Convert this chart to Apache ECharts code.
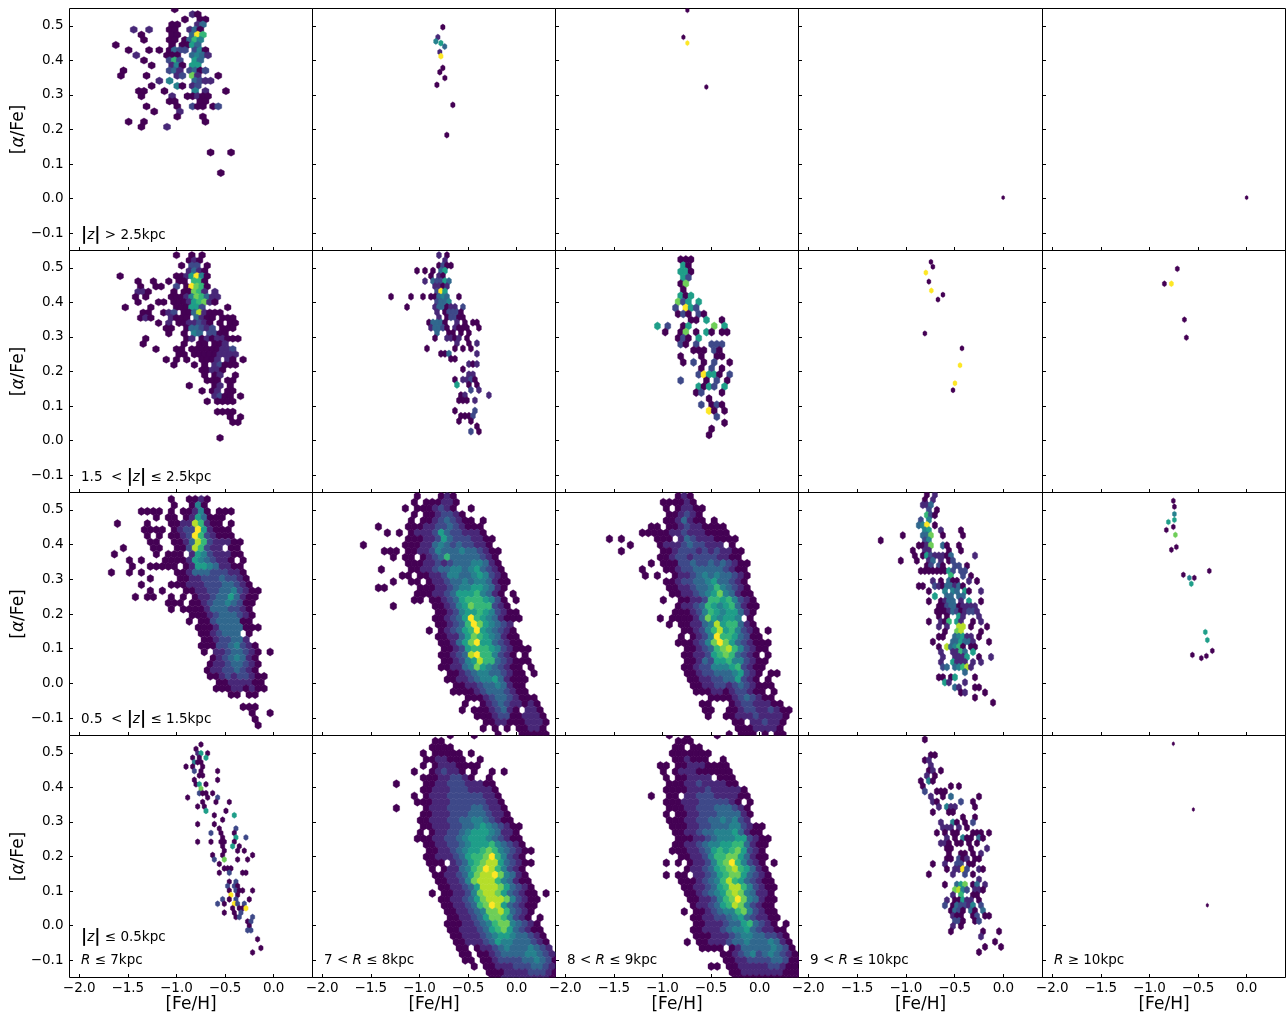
<!DOCTYPE html>
<html><head><meta charset="utf-8">
<style>html,body{margin:0;padding:0;background:#fff}#c{width:1286px;height:1015px}</style>
<script src="https://cdn.jsdelivr.net/npm/echarts@6/dist/echarts.min.js"></script>
</head><body><div id="c"></div>
<script>
const xTicks=[-2,-1.5,-1,-0.5,0];
const yTicks=[-0.1,0,0.1,0.2,0.3,0.4,0.5];
const viridis=['#440154','#482878','#3e4989','#31688e','#26828e','#1f9e89','#35b779','#6ece58','#b5de2b','#fde725'];
// Binned maps: one string per hexbin row, one digit (0-9 colour level) per bin, space = empty bin.
const z0_R78=[
"         0   0","      00","      0000","    0 00000 0","     0011000  0","    0 01110000","   0  012110 0  0 0","    000112210  0",
"0    001122211100","    0011122211110","   0 0111222222110","   000111222222110","0    01112222332110","    001112223332110","    0011122334432100","    00111223345432100",
"    0 011223455543110","   000112234555432100","     00112234555643210","     001123455676432100","     00111235667964210","     000 12356788532100","      0 01134679864210","      0011235788974310",
"       0011247888643100","       0011235888753210","      0 0011247887532100 0","       00112357888742100","        0011236798532100","        001123477863210","         00112357764210 0","        0001123467743210",
"         0011123567532100","         0011123455433210","          0011123544333210","          00 0112343334321","           00 0012333344321","           00 0012222334320","             0 001112223321","               000111122210","                00111111110"];
const z0_R89=[
"     0  0    0","      000","      00 00","     0000000","      001000  0","   00 001110000","    0 0111000000","    0 001111 000",
"     000112111100","    00001112111110","  0  00 11222111100","    0001112222210 0","     00011222333210","    0 0011222333310","     00011223343421","     0001122333442100",
"      001123344453100","      0001123444552100","      0011234455663100","     0001123565675210","       001124667753100","    0 0 0112467964210 0","        01123567865310","    0 00 1123567753210",
"       0001234686532100","       0011235688642100","        001234578743110","        001124679743100","         01123568742100","       0 00123446742100","         001122345321100","         00111233563210 0",
"         0011123445321100","         0001112344332210","        0 0011123343334310","          0000 01333334320","              0012342343210","              0011222233200","            00 001111122100","               001111111000","                00000000000"];
const z1_R78=[
"         0   010","        0 000110","       0 0001210  0","        0 0012210","        0 001232100 0","  0    0001122321000","    0 0 0111253221110","       000112532221100",
"0      000113432322110","   000 0011243334332100","     0 00 0123633333210","       0001121233344310","   0    0011233443453210","      00 001124433454210","     0  00 01123343443100","  00     000112344554310",
"         000112355564310 0","        00 0012356665420 0","     0      0012457666210","            00124556542100","            001235965431000","            0012369754321","           0 0123569543210","            00113576543100",
"             00135795532100","             001256665421000","             0012389664210 0","             001245866321000","             00113475432100 0","              0012344332100 0","              00112344531000","               001123343100",
"               0000123332100","                 000123321000","                 0  0123211010","                0 00012310 110","                   000122001110","                    00110001110","                    0 0 0 00110","                      0   00000"];
const z1_R89=[
"            010","         000010","          0 01100","          001210","          0013100 0","       00 0012110000","      000001121110000","0 0     000 1321110000",
"    0    01112322111 0","  0      00122212121100","         00122122221100","       0 000223223232100","      0   00122333332100","      0 0  0112343433210","          00122334533210","          00112334643210",
"           00112345743100","         0  0011266564210","            01123654563100","           00012465455310","         0 000013754554 0","          0 0011348566310","             0012468564210 0","            0 012496653200",
"            0001247975321000","             00123678642100","             0011256763210 0","             00132556442100","             00122444562100","             0012233345210 00","              001122335210 0","              00112212321000",
"               000110122100 0","                 00001232100","                00   012211100","                00  00122112100","                 0  00111211110","                     00 112110","                      00011110","                    0 000 0 00"];
const z1_R7=[
"          0  0010","          0  040","     0000 0 00140 000","       0 00 0153000"," 0    0   001186100 0","     0000 0122951000","      0 0 00129621000","      00  001386211100",
"  0    00  00286211 00","0      0 000 154211100","   0 0   000015432110 0","   0  00000 0155431100","0  0 0     001333222110","      0    001122232210","     0    00011122233210","      0 0   0011223342100",
"    0 00  0 0 01123353100","         000 00123343200","          0 000013332210","             00012333210","             0 002333300","              00013333000","               0012333 0","               00122331",
"               0002234210","               0 11233210 0","                 01234310","                011233210","                011223210","                0012122100","                  00111100","                 000110100",
"                    00 00","","                      000","                       0  0","                        0","                        0"];
const z2_R7=[
"           0  0 0","             010","            0 22 0","             1310","0          0015940","   0  0  0 00 660","    0  00  2 09760","   110    0 00761 1",
"   0 0    0001476311","   0   00 000156710"," 0    0    000552    0","    00  012 00381000","    010   1000 3100 000","       0 1 0011210 0 00","         00  033212 000","         0  0 43 2200",
"     0       01 01011000","    0       0  00 001","       0   00 000000112","           00 000001111","         0 0 0  0001 10 0","          0   0 0 12000","                00110","                0 01  0",
"                 000 00","             0    01 0","                0 01 00","                  1200 0","                 0 0000","","                   0000","                     0 0",
"                      00","","","                   0"];
const z3_R7=[
"            0","               10","              0  00","           00   13","    1  1   00  130","     0     00  396","      0    00 0364","0          0 0053",
"   0   0 0 0322 240","    1     000  3431","      0    262  53","       0   140 55","  0        231 2302"," 0    0     12 71   0","         1 4    3211","       0    40 12",
"     00   0     4 1   0","     0     1  00100","           00    00","      0     0  200 02","        0    1","            0    0","   0  0           0","     0    1",
"","","","","                   0   0","","","","                     0"];
const z1_R910=[
"            0 1","           0 1","           113","            2 0","            620","          2 4","          349 0","           45  1    0",
"      0    337  0    0","0          24","          0017  30  0","        0  11    0  0","         0 05211103     1","     0   0  13 1 02","            02 20  22 0","          000000052 22",
"                  6  2 0","             1 0 300  1 0","          00  21033130","            0   4 43 50  1","              5  33 33","            0  0133 1 5  0","               0023301111","              00013201221",
"               0 0  51   1","            0  106 51  0 1","               1 1  88 0   0","                0  78    0","               00  34511 0","             0    335331   0","               0 83460 00","               1  1163 5",
"                1  1115  0  1","               1  5111 1 1","                23 34681","                     3","               00 05    0","                51   1","                   31   00","                    01    0",
"                        0","                            0"];
const z0_R910=[
" 0","","","  00"," 01","  1","  01 0"," 1 0",
"0 40","0      0 0"," 2  000","  1  0 3      0","   10     2  0","    1 411    0","   0   00","          0  0",
"     1  40 0 2","     111 1 0","    0 0 00   000 0","      1 0 400 30","     110 00 0 0","      00    0   1","       0  00 0 1","      00 201 00",
"   0  1  22 00","      0 1192  10","  0     1  2 0","              1","      0  357 03 1","        7842 110","        1 6  00","      1 00511 0",
"      2 032214 2","       0320 30 3","        100  02 00","        220  02","        1 0","       0       0   0","               1","                  0",
"                0   0","              0"];
const z2_R78=[
"            1 0","             1","            0200","      0 0 0 35","          0 10","        1 32253","           1101","           295",
"0    0  0 00343  0","           2334","    0      133011 2","           1 02220","            1 02200","         03330  1 0 00","          13320 1000  0","           3  00 0 0",
"           0  1101 0","                1  0 1","         0      0 0 0","            003      1","               00","                   101","                  0","                   11",
"                0 1120","                5  0 0","                    2 1","                 01     1","                 000 1","","                0    2","                 0002",
"                 0  0","                     0","                    2 0"];
const z2_R89=[
"     000","     50","     550","     52","     07","     0","     505","    725 5",
"    2 952","    020 20","       00 5  0","5 2  05    7 5","  0  07 0 50 00","    020 5","     20 2  222","       000 20",
"     0   0  00","     0 2 0 2  0","         0 2 0","        29550 2","     2    0 2 0","        5052 5","        02   0","          0",
"         2 020","          90 0","            2","             0","           0","          0"];
const z0_R7=[
"     0","   0","    15 0","  0 0 5","   400","0 0  0","   2 0    0","    00",
"   0      0","   05 0","     7","    200 0"," 0     0  2","     0   0   0","    0 0","      5     0",
"         0     5","           0","    0    0","          0    2","        2  0   0","           0   5  2","    0   0  00  0","           0  5 0",
"            0   0 0","        0  0        0","         2  7   0  0","          0","            000","          0  2   00","","             0 2",
"             2 20","             0 200  0","              9 0","           2 0 2   0","          2 0  92 2","              0 009","            0  0 2","               02   2",
"                   02","                   0","                   22","","                      0","","                       0","                    0"];
// Individually read bins: [Fe/H], [alpha/Fe], colour level.
const z3_R78=[[-.759,.496,0],[-.81,.467,1],[-.831,.455,4],[-.779,.45,5],[-.74,.44,3],[-.79,.424,1],[-.779,.412,9],[-.759,.378,0],[-.79,.366,0],[-.738,.349,0],[-.82,.329,0],[-.656,.271,0],[-.718,.184,0]];
const z3_R89=[[-.743,.545,0],[-.784,.467,0],[-.743,.45,9],[-.548,.323,0]];
const z3_R910=[[-.003,.003,0]];
const z3_R10=[[0,.003,0]];
const z2_R910=[[-.743,.517,0],[-.723,.503,0],[-.795,.486,9],[-.764,.46,0],[-.739,.434,9],[-.671,.408,0],[-.62,.422,0],[-.805,.31,0],[-.425,.267,0],[-.445,.218,9],[-.497,.166,9],[-.517,.146,0]];
const z2_R10=[[-.846,.454,0],[-.774,.454,9],[-.713,.497,0],[-.64,.35,0],[-.62,.298,0]];
const z1_R10=[[-.754,.526,0],[-.743,.509,0],[-.743,.488,4],[-.743,.471,5],[-.805,.465,5],[-.754,.451,0],[-.733,.428,7],[-.826,.442,0],[-.723,.393,0],[-.774,.385,0],[-.651,.313,0],[-.589,.304,4],[-.569,.287,5],[-.384,.324,0],[-.538,.304,0],[-.425,.148,5],[-.404,.125,5],[-.353,.094,0],[-.558,.082,0],[-.466,.073,0],[-.414,.079,0]];
const z0_R10=[[-.754,.526,0],[-.548,.336,0],[-.404,.059,0]];
// Hexbin lattice of each map: first bin [Fe/H], bin width, first row [alpha/Fe], row step.
const latticeDense0=[-1.237,.0616,.551,.0176];
const latticeDense1=[-1.576,.0616,.5394,.0176];
const latticeZ1R7=[-1.6685,.0616,.5308,.0176];
const latticeZ3R7=[-1.65,.0527,.548,.0148];
const latticeZ2R7=[-1.579,.0527,.5365,.0151];
const latticeZ1R910=[-1.278,.0411,.5433,.0146];
const latticeZ0R910=[-.8466,.0411,.5385,.015];
const latticeZ2R78=[-1.292,.0411,.5365,.015];
const latticeZ2R89=[-1.0777,.0531,.524,.0175];
const latticeZ0R7=[-.9185,.03425,.524,.0128];

const lefts=[69.5,312.5,555.5,798.5,1042.5], rights=[312.5,555.5,798.5,1042.5,1285.5], tops=[8.5,250.5,492.5,735.5], bottoms=[250.5,492.5,735.5,977.5];
const FONT='"DejaVu Sans"';
function fromMap(rows,l){const o=[];rows.forEach((s,r)=>{for(let c=0;c<s.length;c++){if(s[c]!==' ')o.push([l[0]+(c+(r%2?.5:0))*l[1],l[2]-r*l[3],+s[c]]);}});return o;}
// row, col, bins, hex width (data), hex height (data)
const panels=[
[0,0,fromMap(z3_R7,latticeZ3R7),.072,.0215],
[0,1,z3_R78,.045,.018],
[0,2,z3_R89,.036,.015],
[0,3,z3_R910,.03,.012],
[0,4,z3_R10,.03,.012],
[1,0,fromMap(z2_R7,latticeZ2R7),.068,.0212],
[1,1,fromMap(z2_R78,latticeZ2R78),.05,.0215],
[1,2,fromMap(z2_R89,latticeZ2R89),.061,.0235],
[1,3,z2_R910,.04,.016],
[1,4,z2_R10,.042,.017],
[2,0,fromMap(z1_R7,latticeZ1R7),.066,.0232],
[2,1,fromMap(z1_R78,latticeDense1),.066,.0238],
[2,2,fromMap(z1_R89,latticeDense1),.066,.0238],
[2,3,fromMap(z1_R910,latticeZ1R910),.053,.0225],
[2,4,z1_R10,.04,.0165],
[3,0,fromMap(z0_R7,latticeZ0R7),.045,.0175],
[3,1,fromMap(z0_R78,latticeDense0),.066,.0238],
[3,2,fromMap(z0_R89,latticeDense0),.066,.0238],
[3,3,fromMap(z0_R910,latticeZ0R910),.053,.022],
[3,4,z0_R10,.025,.012]
];
const notes=[
[0,0,233,'{b||}{i|z}{b||} > 2.5kpc'],
[1,0,475,'1.5  < {b||}{i|z}{b||} ≤ 2.5kpc'],
[2,0,717,'0.5  < {b||}{i|z}{b||} ≤ 1.5kpc'],
[3,0,935,'{b||}{i|z}{b||} ≤ 0.5kpc'],
[3,0,959,'{i|R} ≤ 7kpc'],
[3,1,959,'7 < {i|R} ≤ 8kpc'],
[3,2,959,'8 < {i|R} ≤ 9kpc'],
[3,3,959,'9 < {i|R} ≤ 10kpc'],
[3,4,959,'{i|R} ≥ 10kpc']
];
const chart=echarts.init(document.getElementById('c'),null,{renderer:'canvas'});
const fmt=v=>(v<0?'\u2212':'')+Math.abs(v).toFixed(1);
const grid=[],xAxis=[],yAxis=[],series=[];
panels.forEach((p,i)=>{
 const [row,col,bins,hw,hh]=p;
 grid.push({left:lefts[col],top:tops[row],width:rights[col]-lefts[col],height:bottoms[row]-tops[row],show:true,borderColor:'#000',borderWidth:1,backgroundColor:'transparent',containLabel:false});
 xAxis.push({type:'value',gridIndex:i,min:-2.1,max:0.4,splitLine:{show:false},
  axisLine:{show:false,onZero:false},
  axisTick:{show:true,inside:true,length:3.5,customValues:xTicks,lineStyle:{color:'#000',width:1}},
  axisLabel:{show:row===3,customValues:xTicks,formatter:fmt,color:'#000',fontFamily:FONT,fontSize:13.5,margin:4},
  name:row===3?'[Fe/H]':'',nameLocation:'middle',nameGap:19,nameTextStyle:{color:'#000',fontFamily:FONT,fontSize:17}});
 yAxis.push({type:'value',gridIndex:i,min:-0.15,max:0.55,splitLine:{show:false},
  axisLine:{show:false,onZero:false},
  axisTick:{show:true,inside:true,length:3.5,customValues:yTicks,lineStyle:{color:'#000',width:1}},
  axisLabel:{show:col===0,customValues:yTicks,formatter:fmt,color:'#000',fontFamily:FONT,fontSize:13.5,margin:6},
  name:col===0?'[{i|α}/Fe]':'',nameLocation:'middle',nameGap:38,
  nameTextStyle:{color:'#000',fontFamily:FONT,fontSize:17,rich:{i:{fontStyle:'italic',fontFamily:FONT,fontSize:17,color:'#000'}}}});
 series.push({type:'custom',coordinateSystem:'cartesian2d',xAxisIndex:i,yAxisIndex:i,data:bins,clip:true,silent:true,animation:false,
  encode:{x:0,y:1},
  renderItem:(params,api)=>{
    const x=api.value(0),y=api.value(1),c=viridis[api.value(2)];
    const pts=[[0,-.5],[.5,-.25],[.5,.25],[0,.5],[-.5,.25],[-.5,-.25]].map(v=>api.coord([x+v[0]*hw,y+v[1]*hh]));
    return {type:'polygon',shape:{points:pts},style:{fill:c,stroke:c,lineWidth:.4}};
  }});
});
const graphic=notes.map(n=>({type:'text',left:Math.floor(lefts[n[1]])+12,top:n[2]-6,silent:true,z:50,
  style:{text:n[3],fill:'#000',font:'13.5px '+FONT,
    rich:{i:{fontStyle:'italic',fontFamily:FONT,fontSize:13.5,fill:'#000'},b:{fontWeight:'bold',fontFamily:FONT,fontSize:17,fill:'#000'}}}}));
chart.setOption({animation:false,backgroundColor:'#fff',grid,xAxis,yAxis,series,graphic});
</script></body></html>
